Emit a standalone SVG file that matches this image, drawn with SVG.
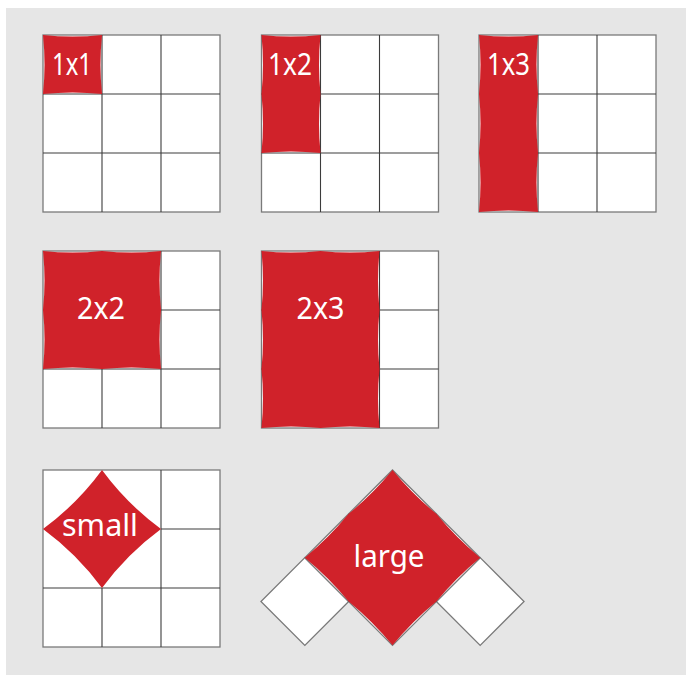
<svg xmlns="http://www.w3.org/2000/svg" width="686" height="675" viewBox="0 0 686 675">
<style>
.bg{fill:#e6e6e6}
.cell{fill:#ffffff;stroke:#7a7a7a;stroke-width:1.3}
.ln{stroke:#3c3c3c;stroke-width:1.1;fill:none}
.red{fill:#d0222a}
.lbl{fill:#ffffff;font-family:"Noto Sans","Open Sans",sans-serif;font-size:30px;text-anchor:middle}
</style>
<rect class="bg" x="6" y="8" width="680" height="667"/>

<g id="g1x1" transform="translate(43,35)">
  <rect class="cell" width="177" height="177"/>
  <path class="ln" d="M59,0V177M118,0V177M0,59H177M0,118H177"/>
  <path class="red" d="M0,0 Q29.5,3 59,0 Q56,29.5 59,59 Q29.5,56 0,59 Q3,29.5 0,0Z"/>
  <text class="lbl" x="29" y="40" textLength="40" lengthAdjust="spacingAndGlyphs">1x1</text>
</g>

<g id="g1x2" transform="translate(261.5,35)">
  <rect class="cell" width="177" height="177"/>
  <path class="ln" d="M59,0V177M118,0V177M0,59H177M0,118H177"/>
  <path class="red" d="M0,0 Q29.5,3 59,0 Q56,29.5 59,59 Q56,88.5 59,118 Q29.5,115 0,118 Q3,88.5 0,59 Q3,29.5 0,0Z"/>
  <text class="lbl" x="28.5" y="40" textLength="44" lengthAdjust="spacingAndGlyphs">1x2</text>
</g>

<g id="g1x3" transform="translate(479,35)">
  <rect class="cell" width="177" height="177"/>
  <path class="ln" d="M59,0V177M118,0V177M0,59H177M0,118H177"/>
  <path class="red" d="M0,0 Q29.5,3 59,0 Q56,29.5 59,59 Q56,88.5 59,118 Q56,147.5 59,177 Q29.5,174 0,177 Q3,147.5 0,118 Q3,88.5 0,59 Q3,29.5 0,0Z"/>
  <text class="lbl" x="29.5" y="40" textLength="43" lengthAdjust="spacingAndGlyphs">1x3</text>
</g>

<g id="g2x2" transform="translate(43,251)">
  <rect class="cell" width="177" height="177"/>
  <path class="ln" d="M59,0V177M118,0V177M0,59H177M0,118H177"/>
  <path class="red" d="M0,0 Q29.5,3 59,0 Q88.5,3 118,0 Q115,29.5 118,59 Q115,88.5 118,118 Q88.5,115 59,118 Q29.5,115 0,118 Q3,88.5 0,59 Q3,29.5 0,0Z"/>
  <text class="lbl" x="58" y="68" textLength="48" lengthAdjust="spacingAndGlyphs">2x2</text>
</g>

<g id="g2x3" transform="translate(261.5,251)">
  <rect class="cell" width="177" height="177"/>
  <path class="ln" d="M59,0V177M118,0V177M0,59H177M0,118H177"/>
  <path class="red" d="M0,0 Q29.5,3 59,0 Q88.5,3 118,0 Q115,29.5 118,59 Q115,88.5 118,118 Q115,147.5 118,177 Q88.5,174 59,177 Q29.5,174 0,177 Q3,147.5 0,118 Q3,88.5 0,59 Q3,29.5 0,0Z"/>
  <text class="lbl" x="59" y="68" textLength="48" lengthAdjust="spacingAndGlyphs">2x3</text>
</g>

<g id="gsmall" transform="translate(43,470)">
  <rect class="cell" width="177" height="177"/>
  <path class="ln" d="M118,0V177M0,118H177M59,118V177M118,59H177"/>
  <path class="red" d="M0,59 Q34,34 59,0 Q84,34 118,59 Q84,84 59,118 Q34,84 0,59Z"/>
  <text class="lbl" x="57" y="66" font-size="29" textLength="76" lengthAdjust="spacingAndGlyphs">small</text>
</g>

<g id="glarge">
  <g transform="translate(392.5,470) rotate(45)">
    <rect class="cell" x="0" y="124" width="62" height="62"/>
    <rect class="cell" x="124" y="0" width="62" height="62"/>
    <rect class="cell" x="0" y="0" width="124" height="124"/>
    <path class="ln" d="M62,0V124M0,62H124"/>
    <path class="red" d="M0,0 Q31,3 62,0 Q93,3 124,0 Q121,31 124,62 Q121,93 124,124 Q93,121 62,124 Q31,121 0,124 Q3,93 0,62 Q3,31 0,0Z"/>
  </g>
  <text class="lbl" x="389" y="567" font-size="29" textLength="71" lengthAdjust="spacingAndGlyphs">large</text>
</g>
</svg>
